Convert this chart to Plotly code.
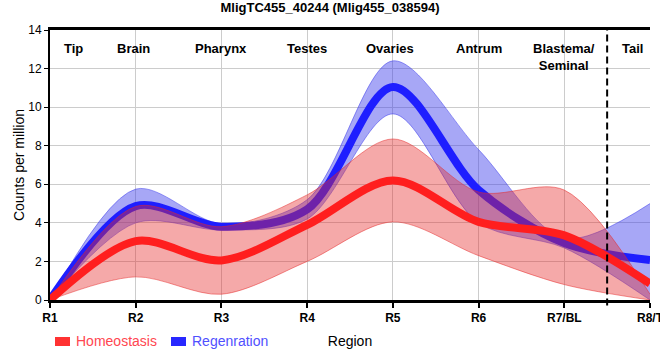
import plotly.graph_objects as go

# ---- data ----
categories = ["R1", "R2", "R3", "R4", "R5", "R6", "R7/BL", "R8/T"]
homeo_mean = [0, 3.05, 2.05, 3.9, 6.2, 4.05, 3.35, 0.85]
homeo_upper = [0, 4.85, 3.8, 5.45, 8.35, 5.6, 5.7, 0.3]
homeo_lower = [0, 1.2, 0.3, 2.0, 4.05, 2.3, 0.8, 0]
regen_mean = [0, 4.87, 3.8, 4.7, 11.05, 5.7, 2.95, 2.07]
regen_upper = [0, 5.75, 3.95, 5.2, 12.4, 7.8, 3.2, 5.0]
regen_lower = [0, 4.0, 3.63, 4.2, 9.65, 4.0, 2.7, 0]
region_labels = ["Tip", "Brain", "Pharynx", "Testes", "Ovaries", "Antrum", "Blastema/<br>Seminal", "Tail"]
region_pos = [0.27, 0.97, 2.0, 3.0, 3.97, 5.0, 6.0, 6.8]
y_ticks = [0, 2, 4, 6, 8, 10, 12, 14]

FONT = "Liberation Sans, Arial, sans-serif"
RED_LINE = "rgb(255,30,30)"
BLUE_LINE = "rgb(30,30,255)"
RED_FILL = "rgba(230,40,40,0.4)"
BLUE_FILL = "rgba(60,60,235,0.45)"
SP = dict(shape="spline", smoothing=0.9)

fig = go.Figure()
# regeneration band + mean
fig.add_trace(go.Scatter(x=categories, y=regen_upper, mode="lines",
                         line=dict(color="rgba(60,60,235,0.5)", width=1, **SP),
                         showlegend=False, hoverinfo="skip"))
fig.add_trace(go.Scatter(x=categories, y=regen_lower, mode="lines", fill="tonexty",
                         fillcolor=BLUE_FILL,
                         line=dict(color="rgba(60,60,235,0.5)", width=1, **SP),
                         showlegend=False, hoverinfo="skip"))
fig.add_trace(go.Scatter(x=categories, y=regen_mean, mode="lines",
                         line=dict(color=BLUE_LINE, width=8, **SP),
                         name="Regenration", showlegend=False))
# homeostasis band + mean
fig.add_trace(go.Scatter(x=categories, y=homeo_upper, mode="lines",
                         line=dict(color="rgba(230,40,40,0.5)", width=1, **SP),
                         showlegend=False, hoverinfo="skip"))
fig.add_trace(go.Scatter(x=categories, y=homeo_lower, mode="lines", fill="tonexty",
                         fillcolor=RED_FILL,
                         line=dict(color="rgba(230,40,40,0.5)", width=1, **SP),
                         showlegend=False, hoverinfo="skip"))
fig.add_trace(go.Scatter(x=categories, y=homeo_mean, mode="lines",
                         line=dict(color=RED_LINE, width=8, **SP),
                         name="Homeostasis", showlegend=False))

W, H = 660, 360
L, R, T, B = 50, 10, 30, 60
pw, ph = W - L - R, H - T - B
def px_x(p):
    return (p - L) / pw
def px_y(p):
    return (H - B - p) / ph

annotations = []
for lab, xp in zip(region_labels, region_pos):
    annotations.append(dict(x=xp, xref="x", y=1, yref="paper", yanchor="top",
                            yshift=-9, text=f"<b>{lab}</b>", showarrow=False,
                            font=dict(family=FONT, size=13, color="black"),
                            align="center"))
# manual legend
annotations.append(dict(x=px_x(74), xref="paper", y=px_y(341), yref="paper",
                        text="Homeostasis", showarrow=False, xanchor="left",
                        yanchor="middle",
                        font=dict(family=FONT, size=14, color="rgb(255,70,80)")))
annotations.append(dict(x=px_x(190), xref="paper", y=px_y(341), yref="paper",
                        text="Regenration", showarrow=False, xanchor="left",
                        yanchor="middle",
                        font=dict(family=FONT, size=14, color="rgb(80,80,255)")))

shapes = [
    dict(type="line", xref="x", yref="paper", x0=6.5, x1=6.5, y0=-0.02, y1=1,
         line=dict(color="black", width=2, dash="7px,4px")),
    dict(type="rect", xref="paper", yref="paper", x0=px_x(55), x1=px_x(70),
         y0=px_y(346), y1=px_y(337), fillcolor="rgb(255,50,50)", line=dict(width=0)),
    dict(type="rect", xref="paper", yref="paper", x0=px_x(171), x1=px_x(186),
         y0=px_y(346), y1=px_y(337), fillcolor="rgb(40,40,255)", line=dict(width=0)),
]

fig.update_layout(
    width=W, height=H,
    margin=dict(l=L, r=R, t=T, b=B, autoexpand=False),
    paper_bgcolor="white", plot_bgcolor="white",
    font=dict(family=FONT, size=12, color="black"),
    title=dict(text="<b>MligTC455_40244 (Mlig455_038594)</b>", x=0.5, xanchor="center",
               xref="container", y=1 - 3 / H, yref="container", yanchor="top",
               font=dict(family=FONT, size=13, color="black")),
    xaxis=dict(type="category", categoryorder="array", categoryarray=categories,
               range=[0, 7], showgrid=True, gridcolor="#cccccc", gridwidth=1,
               showline=True, linecolor="black", linewidth=2.5, mirror=True,
               ticks="outside", ticklen=5, tickwidth=1.5, tickcolor="black",
               tickfont=dict(family=FONT, size=12, color="black", weight="bold"),
               title=dict(text="Region", font=dict(family=FONT, size=14, color="black"),
                          standoff=13),
               zeroline=False, automargin=False),
    yaxis=dict(range=[0, 14], tickvals=y_ticks, showgrid=True, gridcolor="#cccccc",
               gridwidth=1, showline=True, linecolor="black", linewidth=2,
               ticks="outside", ticklen=4, tickwidth=1, tickcolor="black",
               tickfont=dict(family=FONT, size=12, color="black"),
               title=dict(text="Counts per million",
                          font=dict(family=FONT, size=14, color="black"), standoff=0),
               zeroline=False, automargin=False),
    annotations=annotations,
    shapes=shapes,
    showlegend=False,
)

fig.write_html("out.html", config={"displayModeBar": False},
               post_script="document.body.style.margin='0px';document.body.style.padding='0px';")
